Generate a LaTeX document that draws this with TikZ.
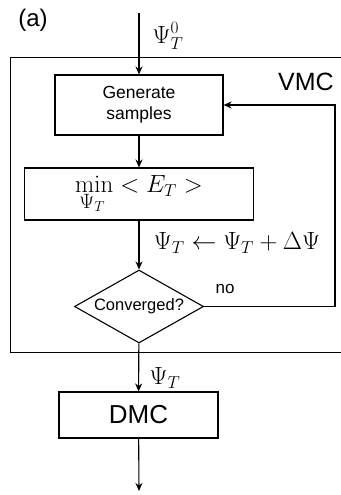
\documentclass[tikz,border=0pt]{standalone}
\usepackage[no-math]{fontspec}
\setmainfont{Liberation Sans}
\usetikzlibrary{shapes.geometric,arrows.meta}
\begin{document}
\begin{tikzpicture}[x=1pt,y=-1pt,
  line width=1.1pt,
  arr/.style={-{Stealth[length=8pt,width=7pt]}},
  block/.style={draw, rectangle, inner sep=0pt, align=center},
  mathlbl/.style={inner sep=0pt, font=\fontsize{23}{26}\selectfont}]
\useasboundingbox (0,0) rectangle (340,495);
\node[draw, rectangle, anchor=north west, minimum width=345pt, minimum height=295pt, inner sep=0pt] (vmcbox) at (10,57){};
\node[inner sep=0pt, font=\fontsize{25}{28}\selectfont] (vmc) at (306,82){VMC};
\node[inner sep=0pt, font=\fontsize{24}{28}\selectfont] (lbla) at (33,20){(a)};
\coordinate (start) at (139,13);
\node[block, minimum width=168pt, minimum height=60pt, font=\fontsize{17.5}{21}\selectfont] (gen) at (139,105){Generate\\samples};
\node[block, minimum width=229pt, minimum height=52pt, font=\fontsize{23}{26}\selectfont] (minE) at (139,194){$\min\limits_{\scalebox{1.2}{$\scriptstyle\Psi_T$}} < E_T >$};
\node[draw, diamond, aspect=1.8, inner sep=0pt, minimum width=129pt, minimum height=73pt, font=\fontsize{16.5}{20}\selectfont] (conv) at (139,306.5){Converged?};
\node[block, minimum width=159pt, minimum height=46pt, font=\fontsize{26}{30}\selectfont] (dmc) at (138.5,415){DMC};
\coordinate (finish) at (139,491);
\coordinate (loop) at (335,105);
\draw[arr](start) -- (gen);
\draw[arr](gen) -- (minE);
\draw[arr](minE) -- (conv);
\draw[arr](conv.east) -| (loop) -- (gen.east);
\draw[arr](conv) -- (dmc);
\draw[arr](dmc) -- (finish);
\node[mathlbl] (psi0) at (168,36){$\Psi_T^0$};
\node[mathlbl] (upd) at (237,243){$\Psi_T \leftarrow \Psi_T + \Delta\Psi$};
\node[inner sep=0pt, font=\fontsize{17}{20}\selectfont] (no) at (225,289){no};
\node[mathlbl] (psi) at (165,378){$\Psi_T$};

\end{tikzpicture}
\end{document}
